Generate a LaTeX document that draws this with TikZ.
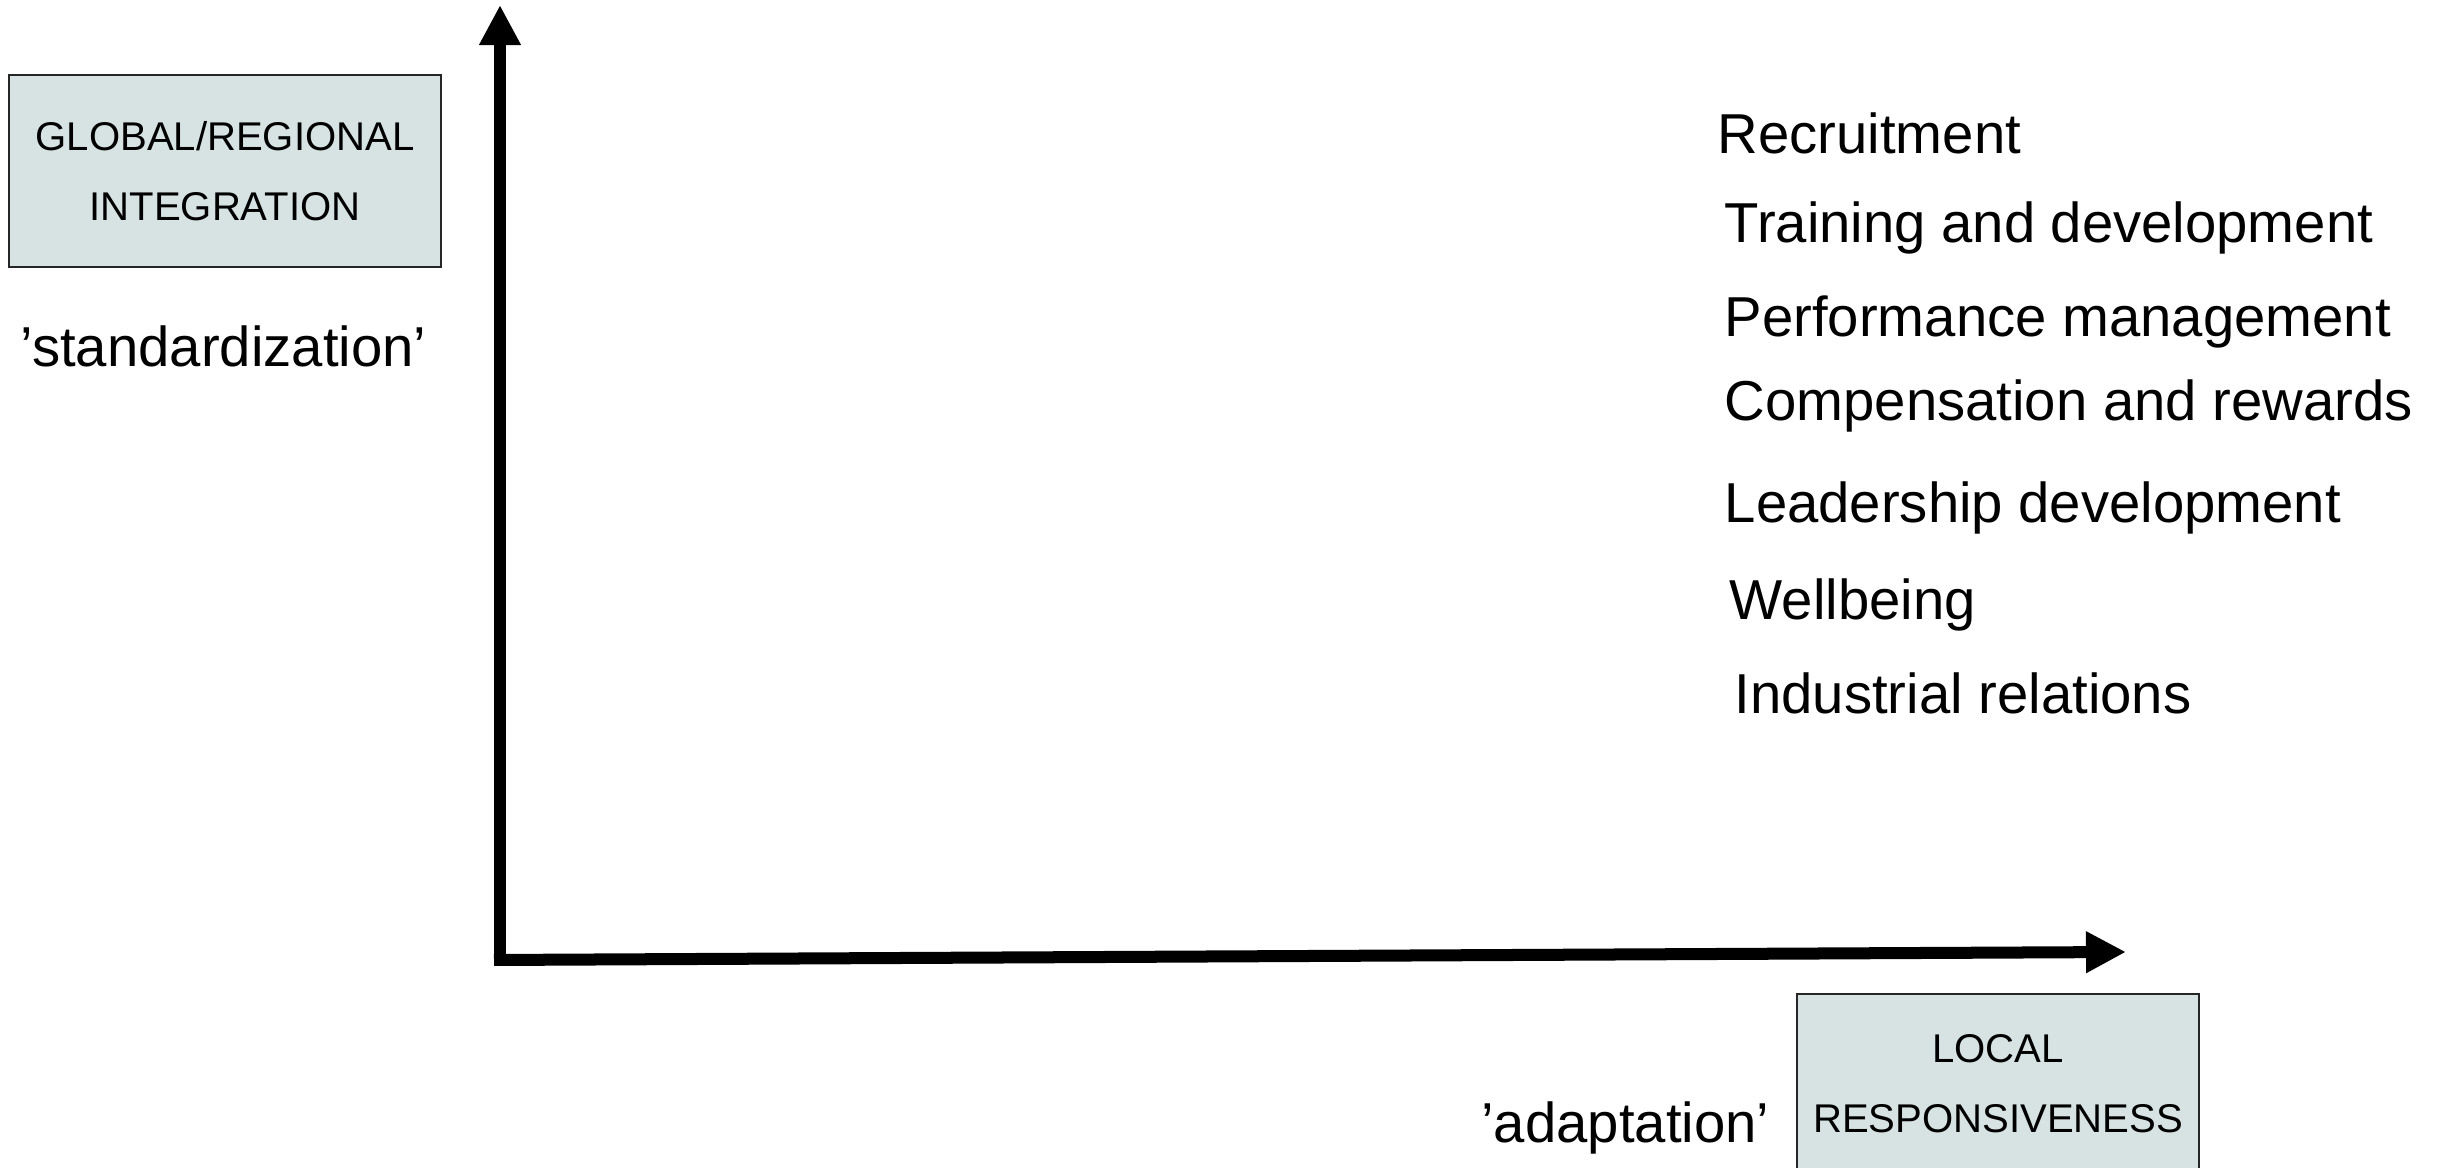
\documentclass[tikz,border=0pt]{standalone}
\usepackage{fontspec}
\setmainfont{Liberation Sans}
\usetikzlibrary{arrows.meta}
\definecolor{boxfill}{RGB}{214,227,226}
\tikzset{
	axis/.style={line width=1.2mm,-{Triangle[length=4mm,width=3.9mm]}},
	dimbox/.style={draw=black!85,line width=0.6pt,fill=boxfill,align=center,inner sep=0pt,font=\fontsize{11.4}{19.9}\selectfont},
	pole/.style={inner sep=0pt,font=\fontsize{16}{19}\selectfont},
	practice/.style={pole,anchor=base west}
}

\begin{document}
\begin{tikzpicture}[x=0.01cm,y=-0.01cm]
					%\draw[help lines] (0,0) grid (2445,1168);
					\useasboundingbox (0,0) rectangle (2445,1168);
					%AXES
					\coordinate (ybase) at (500,966);
					\coordinate (ytip) at (500,5);
					\coordinate (xbase) at (494,960);
					\coordinate (xtip) at (2126,952);
					\draw[axis] (ybase) -- (ytip);
					\draw[axis] (xbase) -- (xtip);
					%DIMENSIONS
					\node[dimbox,minimum width=4.32cm,minimum height=1.92cm] (global) at (225,171) {GLOBAL/REGIONAL\\INTEGRATION};
					\node[pole,anchor=base west] (standard) at (20,367) {'standardization'};
					\node[dimbox,minimum width=4.01cm,minimum height=1.79cm] (local) at (1998,1084) {LOCAL\\RESPONSIVENESS};
					\node[pole,anchor=base east] (adapt) at (1770,1143) {'adaptation'};
					%HR PRACTICES
					\node[practice] (recruit) at (1717,154) {Recruitment};
					\node[practice] (training) at (1724,243) {Training and development};
					\node[practice] (perform) at (1724,337) {Performance management};
					\node[practice] (compens) at (1724,421) {Compensation and rewards};
					\node[practice] (leader) at (1724,523) {Leadership development};
					\node[practice] (wellbeing) at (1729,620) {Wellbeing};
					\node[practice] (indrel) at (1734,714) {Industrial relations};
\end{tikzpicture}
\end{document}
